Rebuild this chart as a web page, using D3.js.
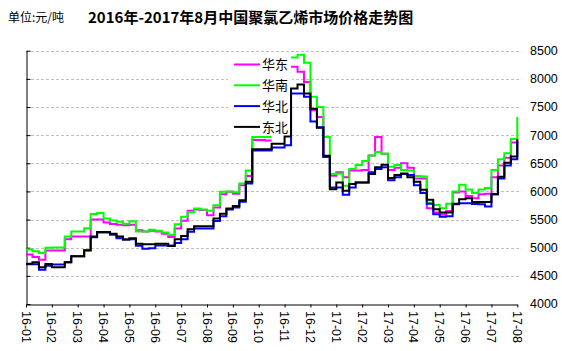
<!DOCTYPE html>
<html>
<head>
<meta charset="utf-8">
<script src="https://cdn.jsdelivr.net/npm/d3@7"></script>
<style>
  body { margin: 0; background: #fff; }
</style>
</head>
<body>
<div id="svg-container"></div>
<script>
// establish variables
var svgWidth  = 562;
var svgHeight = 351;

// month labels on the x axis
var months = ["16-01", "16-02", "16-03", "16-04", "16-05", "16-06", "16-07", "16-08",
              "16-09", "16-10", "16-11", "16-12", "17-01", "17-02", "17-03", "17-04",
              "17-05", "17-06", "17-07", "17-08"];

// y axis tick labels
var yTicks = [4000, 4500, 5000, 5500, 6000, 6500, 7000, 7500, 8000, 8500];

// series names and colours, legend order
var seriesNames  = ["华东", "华南", "华北", "东北"];
var seriesColors = ["#ff00ff", "#00ff00", "#0000ff", "#000000"];

// prices, sampled four times per month (index 0 = 16-01, index 76 = 17-08)
var eastChina = [
  4880, 4835, 4785, 4950, 4950, 4950, 5150, 5200, 5200, 5200,
  5500, 5500, 5450, 5420, 5410, 5400, 5410, 5310, 5290, 5300,
  5290, 5250, 5190, 5340, 5480, 5655, 5680, 5670, 5575, 5715,
  5950, 5995, 5960, 6110, 6275, 6915, 6915, 6905, 6905, null,
  null, 8215, 8125, 7945, 7440, 7320, 6610, 6280, 6340, 6250,
  6370, 6370, 6380, 6640, 6965, 6670, 6380, 6420, 6500, 6420,
  6230, 6230, 5700, 5625, 5590, 5650, 5980, 6000, 5920, 5880,
  5950, 5960, 6250, 6460, 6600, 6870, 6900];

var southChina = [
  4970, 4935, 4905, 5000, 5005, 5005, 5200, 5290, 5290, 5345,
  5600, 5615, 5520, 5485, 5460, 5425, 5470, 5290, 5290, 5320,
  5300, 5270, 5225, 5415, 5550, 5635, 5695, 5680, 5655, 5755,
  5995, 6000, 5985, 6140, 6370, 6965, 6965, 6965, 6965, null,
  null, 8380, 8430, 8285, 7680, 7500, 6965, 6310, 6320, 6100,
  6400, 6470, 6540, 6640, 6700, 6670, 6440, 6470, 6380, 6370,
  6275, 6265, 5800, 5760, 5700, 5780, 6000, 6120, 6035, 5970,
  6035, 6060, 6380, 6570, 6680, 6930, 7320];

var northChina = [
  4705, 4705, 4610, 4680, 4700, 4700, 4740, 4850, 4850, 4950,
  5185, 5270, 5270, 5230, 5170, 5145, 5150, 5035, 4980, 4990,
  5040, 5040, 5040, 5085, 5150, 5285, 5340, 5340, 5340, 5475,
  5560, 5680, 5715, 5815, 6140, 6725, 6725, 6725, 6780, 6780,
  6820, 7740, 7740, 7680, 7240, 7140, 6610, 6070, 6070, 5940,
  6070, 6160, 6160, 6340, 6400, 6430, 6200, 6250, 6310, 6290,
  6110, 5970, 5780, 5595, 5550, 5560, 5770, 5790, 5790, 5775,
  5770, 5730, 5950, 6230, 6460, 6570, 6890];

var northeast = [
  4715, 4740, 4655, 4710, 4655, 4655, 4740, 4850, 4850, 4955,
  5200, 5280, 5280, 5250, 5200, 5145, 5170, 5070, 5060, 5060,
  5070, 5070, 5030, 5150, 5210, 5330, 5380, 5380, 5380, 5520,
  5605, 5695, 5740, 5845, 6170, 6750, 6750, 6750, 6845, 6845,
  6975, 7830, 7900, 7740, 7470, 7130, 6635, 6040, 6160, 6010,
  6130, 6160, 6160, 6310, 6430, 6475, 6240, 6290, 6320, 6250,
  6170, 6030, 5850, 5685, 5625, 5625, 5780, 5860, 5880, 5810,
  5810, 5810, 5950, 6260, 6510, 6620, 6930];

var seriesData = [eastChina, southChina, northChina, northeast];
var stepsPerMonth = 4;

// plot area
var plotLeft   = 26;
var plotRight  = 517.3;
var plotTop    = 50.7;
var plotBottom = 304;

var xScale = d3.scaleLinear()
               .domain([0, (months.length - 1) * stepsPerMonth])
               .range([plotLeft, plotRight]);

var yScale = d3.scaleLinear()
               .domain([4000, 8500])
               .range([plotBottom, plotTop]);

var svg = d3.select("#svg-container")
            .append("svg")
            .attr("width", svgWidth)
            .attr("height", svgHeight);

svg.append("rect")
   .attr("width", svgWidth)
   .attr("height", svgHeight)
   .style("fill", "white");

// dashed gridlines
svg.append("g")
   .selectAll("line")
   .data(yTicks.slice(1))
   .enter()
     .append("line")
     .attr("x1", plotLeft)
     .attr("x2", plotRight + 4)
     .attr("y1", function(d) { return Math.round(yScale(d)) + 0.5; })
     .attr("y2", function(d) { return Math.round(yScale(d)) + 0.5; })
     .attr("stroke", "#c0c0c0")
     .attr("stroke-dasharray", "3,2");

// left axis: line plus inward ticks, no labels
var leftAxis = d3.axisRight(yScale)
                 .tickValues(yTicks)
                 .tickSize(4)
                 .tickSizeOuter(0)
                 .tickFormat("");

svg.append("g")
   .attr("transform", "translate(" + (plotLeft + 0.5) + ",0)")
   .call(leftAxis)
   .call(function(g) { g.selectAll("line, path").attr("stroke", "#000"); });

// right side labels
svg.append("g")
   .selectAll("text")
   .data(yTicks)
   .enter()
     .append("text")
     .attr("x", 530)
     .attr("y", function(d) { return yScale(d); })
     .attr("dy", "0.35em")
     .attr("font-family", "Liberation Sans, Arial, sans-serif")
     .attr("font-size", "12.5px")
     .attr("fill", "#000")
     .text(function(d) { return d; });

// bottom axis with monthly ticks
var monthIndex = months.map(function(m, i) { return i * stepsPerMonth; });

var bottomAxis = d3.axisBottom(xScale)
                   .tickValues(monthIndex)
                   .tickSize(3)
                   .tickSizeOuter(0)
                   .tickFormat("");

svg.append("g")
   .attr("transform", "translate(0," + (plotBottom + 0.5) + ")")
   .call(bottomAxis)
   .call(function(g) { g.selectAll("line, path").attr("stroke", "#000"); });

// rotated month labels
svg.append("g")
   .selectAll("text")
   .data(months)
   .enter()
     .append("text")
     .attr("transform", function(d, i) {
        return "translate(" + xScale(monthIndex[i]) + "," + 311 + ") rotate(90)";
     })
     .attr("dy", "0.35em")
     .attr("font-family", "Liberation Sans, Arial, sans-serif")
     .attr("font-size", "12.5px")
     .attr("fill", "#000")
     .text(function(d) { return d; });

// legend with white background
var legend = svg.append("g");

legend.append("rect")
      .attr("x", 228)
      .attr("y", 54)
      .attr("width", 64)
      .attr("height", 86)
      .style("fill", "white");

var legendItems = legend.selectAll("g")
    .data(seriesNames)
    .enter()
      .append("g")
      .attr("transform", function(d, i) { return "translate(234," + (64.5 + i * 20.8) + ")"; });

legendItems.append("line")
    .attr("x1", 0)
    .attr("x2", 26)
    .attr("stroke", function(d, i) { return seriesColors[i]; })
    .attr("stroke-width", 2);

legendItems.append("text")
    .attr("x", 28)
    .attr("dy", "0.36em")
    .attr("font-family", "Noto Sans CJK SC, sans-serif")
    .attr("font-size", "13px")
    .attr("fill", "#000")
    .text(function(d) { return d; });

// step lines
var line = d3.line()
             .defined(function(d) { return d != null; })
             .x(function(d, i) { return xScale(i); })
             .y(function(d) { return yScale(d); })
             .curve(d3.curveStepAfter);

svg.append("g")
   .selectAll("path")
   .data(seriesData)
   .enter()
     .append("path")
     .attr("d", function(d) { return line(d); })
     .attr("fill", "none")
     .attr("stroke", function(d, i) { return seriesColors[i]; })
     .attr("stroke-width", 2);

// unit label and title
svg.append("text")
   .attr("x", 8)
   .attr("y", 17.5)
   .attr("dy", "0.35em")
   .attr("font-family", "Noto Sans CJK SC, sans-serif")
   .attr("font-size", "12px")
   .text("单位:元/吨");

svg.append("text")
   .attr("x", 88)
   .attr("y", 17.5)
   .attr("dy", "0.35em")
   .attr("font-family", "Noto Sans CJK SC, sans-serif")
   .attr("font-size", "15px")
   .style("font-weight", "bold")
   .text("2016年-2017年8月中国聚氯乙烯市场价格走势图");
</script>
</body>
</html>
